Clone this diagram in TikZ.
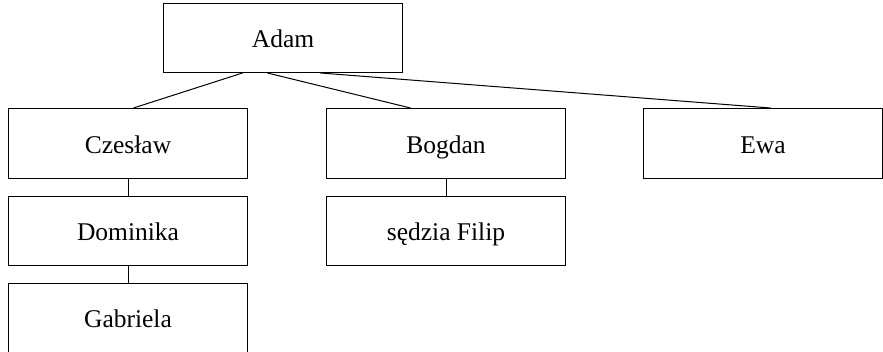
\documentclass[tikz,border=0pt]{standalone}
\usepackage{fontspec}
\setmainfont{Liberation Serif}
\begin{document}
\begin{tikzpicture}[x=1pt,y=1pt,
  person/.style={draw,line width=1pt,anchor=north west,minimum width=239pt,minimum height=69pt,inner sep=0pt,text height=21pt,text depth=1pt,font=\fontsize{25.5}{30}\selectfont},
  link/.style={line width=1pt}]
\useasboundingbox (0,0) rectangle (883,-352);
\node[person] (adam) at (163,-3) {Adam};
\node[person,minimum height=70pt] (czeslaw) at (8,-108) {Czesław};
\node[person,minimum height=70pt] (bogdan) at (326,-108) {Bogdan};
\node[person,minimum height=70pt] (ewa) at (643,-108) {Ewa};
\node[person] (dominika) at (8,-196) {Dominika};
\node[person] (filip) at (326,-196) {sędzia Filip};
\node[person] (gabriela) at (8,-283) {Gabriela};
\draw[link] ([xshift=-40.5pt]adam.south) -- ([xshift=5.5pt]czeslaw.north);
\draw[link] ([xshift=-15.5pt]adam.south) -- ([xshift=-35.5pt]bogdan.north);
\draw[link] ([xshift=37.5pt]adam.south) -- ([xshift=7.5pt]ewa.north);
\draw[link] (czeslaw.south) -- (dominika.north);
\draw[link] (dominika.south) -- (gabriela.north);
\draw[link] (bogdan.south) -- (filip.north);
\end{tikzpicture}
\end{document}
